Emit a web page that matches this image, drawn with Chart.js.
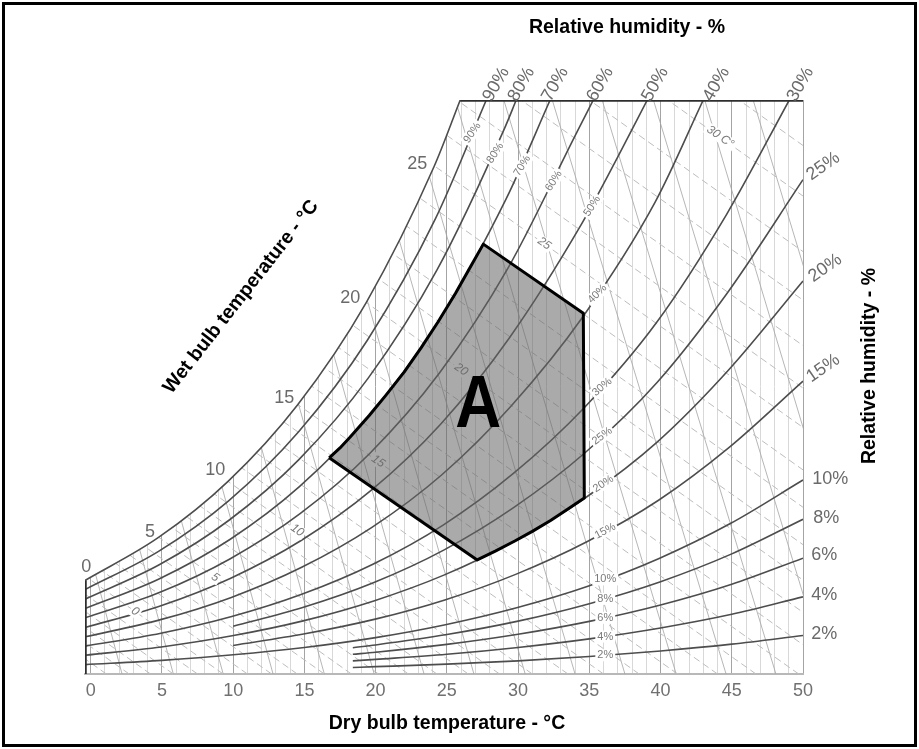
<!DOCTYPE html>
<html>
<head>
<meta charset="utf-8">
<script src="https://cdn.jsdelivr.net/npm/chart.js@4.4.1/dist/chart.umd.min.js"></script>
<style>
  html, body { margin: 0; padding: 0; background: #fff; }
  #wrap { width: 919px; height: 749px; position: relative; }
</style>
</head>
<body>
<div id="wrap"><canvas id="chart"></canvas></div>
<script>
// psychrometric chart - comfort zone A
// x = dry bulb temperature (°C), y = humidity ratio (g/kg)
const T_MIN = -0.4;
const T_MAX = 50;
const W_TOP = 22.7;
const dryBulbTicks = [0, 5, 10, 15, 20, 25, 30, 35, 40, 45, 50];

// relative humidity curves, [dry bulb, humidity ratio]
const rh100 = [[-0.4, 3.70], [4.76, 5.40], [9.66, 7.63], [14.53, 10.65], [19.35, 14.70], [24.12, 20.09], [25.94, 22.7]];
const rh90 = [[-0.4, 3.34], [4.79, 4.86], [9.70, 6.86], [14.58, 9.57], [19.42, 13.20], [24.21, 18.02], [27.77, 22.7]];
const rh80 = [[-0.4, 2.96], [4.81, 4.32], [9.73, 6.09], [14.63, 8.49], [19.48, 11.70], [24.30, 15.97], [29.05, 21.58], [29.87, 22.7]];
const rh70 = [[-0.4, 2.59], [4.83, 3.77], [9.77, 5.32], [14.67, 7.42], [19.55, 10.22], [24.39, 13.93], [29.17, 18.80], [32.25, 22.7]];
const rh60 = [[-0.4, 2.22], [4.86, 3.23], [9.80, 4.56], [14.72, 6.35], [19.62, 8.74], [24.48, 11.90], [29.29, 16.05], [34.14, 21.44], [35.28, 22.7]];
const rh50 = [[-0.4, 1.84], [4.88, 2.69], [9.83, 3.79], [14.77, 5.28], [19.68, 7.26], [24.56, 9.88], [29.41, 13.31], [34.43, 17.77], [37.01, 20.46], [39.07, 22.7]];
const rh40 = [[-0.4, 1.47], [4.91, 2.15], [9.87, 3.03], [14.81, 4.22], [19.74, 5.80], [24.65, 7.88], [29.53, 10.61], [34.55, 14.13], [39.63, 18.67], [43.0, 22.7]];
const rh30 = [[-0.4, 1.10], [4.93, 1.61], [9.90, 2.27], [14.86, 3.16], [19.81, 4.34], [24.74, 5.89], [29.65, 7.92], [34.66, 10.54], [39.72, 13.90], [44.64, 18.18], [49.04, 22.7]];
const rh25 = [[10, 1.89], [14.88, 2.63], [19.84, 3.61], [24.78, 4.90], [29.71, 6.59], [34.72, 8.76], [39.77, 11.54], [44.70, 15.08], [50, 19.55]];
const rh20 = [[-0.4, 0.74], [4.95, 1.07], [9.93, 1.51], [14.91, 2.10], [19.87, 2.89], [24.83, 3.92], [29.77, 5.26], [34.78, 6.99], [39.82, 9.20], [44.76, 12.01], [50, 15.54]];
const rh15 = [[10, 1.13], [14.94, 1.58], [19.90, 2.16], [24.86, 2.93], [29.83, 3.94], [34.83, 5.23], [39.86, 6.87], [44.82, 8.96], [50, 11.58]];
const rh10 = [[-0.4, 0.37], [5, 0.54], [10, 0.76], [15, 1.05], [20, 1.44], [24.9, 1.95], [29.9, 2.62], [34.9, 3.47], [39.9, 4.57], [44.9, 5.95], [50, 7.67]];
const rh8 = [[18.4, 1.04], [20, 1.15], [25, 1.56], [30, 2.09], [35, 2.78], [40, 3.65], [45, 4.75], [50, 6.12]];
const rh6 = [[18.4, 0.78], [20, 0.86], [25, 1.17], [30, 1.57], [35, 2.08], [40, 2.73], [45, 3.55], [50, 4.58]];
const rh4 = [[18.4, 0.52], [20, 0.58], [25, 0.78], [30, 1.05], [35, 1.39], [40, 1.82], [45, 2.36], [50, 3.05]];
const rh2 = [[18.4, 0.26], [20, 0.29], [25, 0.39], [30, 0.52], [35, 0.69], [40, 0.91], [45, 1.18], [50, 1.52]];

// zone A outline (left edge runs along 70 %, lower right edge along 20 %)
const zoneA = [[16.74, 8.55], [17.5, 8.94], [18.2, 9.36], [19.55, 10.22], [20.7, 11.01], [22.0, 11.94], [23.2, 12.91],
  [24.39, 13.93], [25.6, 15.05], [26.6, 16.05], [27.56, 17.0],
  [34.58, 14.27], [34.65, 6.96], [33.5, 6.53], [32.28, 6.07], [31.0, 5.64], [29.77, 5.26], [28.4, 4.86], [27.13, 4.51],
  [16.74, 8.55]];

// wet bulb lines (dashed): dry bulb where they meet the bottom and the top edge
const wetBulbFoot = [1.1, 2.7, 4.2, 5.8, 7.5, 9.3, 11.0, 12.7, 14.5, 16.4, 18.3, 20.2, 22.3, 24.3, 26.5, 28.7, 31.0, 33.5, 36.0, 38.5,
  41.2, 44.0, 46.7, 49.7, 52.9, 56.1, 59.3, 62.8, 66.5, 70.2, 74.4, 78.3, 82.5, 87.0, 91.8, 97.3, 102.3];
const wetBulbHead = [-55.7, -54.1, -52.6, -51.0, -49.3, -47.5, -45.8, -44.1, -42.3, -40.4, -38.5, -36.6, -34.5, -32.5, -30.3, -28.1,
  -25.8, -23.3, -20.8, -18.3, -15.6, -12.8, -10.1, -7.1, -3.9, -0.7, 2.5, 6.0, 9.7, 13.4, 17.6, 21.5, 25.7, 30.2, 35.0, 40.5, 45.5];

// specific volume lines (thin, steep)
const volumeFoot = [2.2, 5.8, 9.3, 12.8, 16.4, 19.9, 23.4, 26.9, 30.5, 34.0, 37.5, 41.1, 44.6, 48.1, 51.7, 55.2, 58.7, 62.3];
const volumeHead = [-8.5, -5.1, -1.7, 1.8, 5.2, 8.6, 12.0, 15.4, 18.8, 22.2, 25.6, 29.0, 32.4, 35.9, 39.5, 43.1, 46.5, 50.0];

const FONT = '"Liberation Sans", Arial, Helvetica, sans-serif';
const CURVE = '#4d4d4d';

const pts = arr => arr.map(p => ({ x: p[0], y: p[1] }));
function segs(foot, head) {
  const out = [];
  foot.forEach((f, i) => {
    out.push({ x: f, y: 0 }, { x: head[i], y: W_TOP }, { x: head[i], y: null });
  });
  return out;
}

/* labels along the curves */
const rhCurveLabels = [
  ['90%', 26.79, 21.4, -55], ['80%', 28.4, 20.6, -57], ['70%', 30.3, 20.1, -58], ['60%', 32.5, 19.5, -58],
  ['50%', 35.2, 18.5, -57], ['40%', 35.56, 15.03, -45], ['30%', 35.9, 11.35, -40], ['25%', 35.9, 9.41, -37],
  ['20%', 35.98, 7.52, -33], ['15%', 36.12, 5.65, -28],
  ['10%', 36.12, 3.74, 0], ['8%', 36.12, 2.97, 0], ['6%', 36.12, 2.22, 0], ['4%', 36.12, 1.48, 0], ['2%', 36.12, 0.74, 0]
];
const wetBulbInnerLabels = [['0', 3.12, 2.47], ['5', 8.74, 3.82], ['10', 14.5, 5.68], ['15', 20.18, 8.41],
  ['20', 26.01, 12.04], ['25', 31.84, 17.02], ['30 C°', 44.2, 21.24]];
const wetBulbOuterLabels = [['0', -0.32, 4.23], ['5', 4.17, 5.61], ['10', 8.74, 8.06], ['15', 13.58, 10.91],
  ['20', 18.22, 14.86], ['25', 22.92, 20.16]];
const topRhLabels = [['90%', 28.47], ['80%', 30.23], ['70%', 32.61], ['60%', 35.77], ['50%', 39.63], ['40%', 43.92], ['30%', 49.82]];
const rightRhLabels = [['25%', 51.42, 20.08, -35], ['20%', 51.56, 16.05, -35], ['15%', 51.42, 12.09, -35],
  ['10%', 51.92, 7.71, 0], ['8%', 51.63, 6.17, 0], ['6%', 51.49, 4.70, 0], ['4%', 51.49, 3.12, 0], ['2%', 51.49, 1.58, 0]];

function drawText(ctx, text, x, y, rot, font, color, box) {
  ctx.save();
  ctx.translate(x, y);
  ctx.rotate(rot * Math.PI / 180);
  ctx.font = font;
  ctx.textAlign = 'center';
  ctx.textBaseline = 'middle';
  if (box) {
    const w = ctx.measureText(text).width;
    ctx.fillStyle = '#fff';
    ctx.fillRect(-w / 2 - 2, -box / 2, w + 4, box);
  }
  ctx.fillStyle = color;
  ctx.fillText(text, 0, 0);
  ctx.restore();
}

const textLayer = {
  id: 'textLayer',
  afterDatasetDraw(chart, args) {
    if (chart.data.datasets[args.index].label !== 'labels') return;
    const { ctx } = chart;
    const xs = chart.scales.x, ys = chart.scales.y;
    rhCurveLabels.forEach(l => {
      drawText(ctx, l[0], xs.getPixelForValue(l[1]), ys.getPixelForValue(l[2]), l[3], '11px ' + FONT, '#7a7a7a', 12);
    });
    wetBulbInnerLabels.forEach(l => {
      drawText(ctx, l[0], xs.getPixelForValue(l[1]), ys.getPixelForValue(l[2]), 35, 'italic 12px ' + FONT, '#7a7a7a', 12);
    });
  },
  afterDatasetsDraw(chart) {
    const { ctx } = chart;
    const xs = chart.scales.x, ys = chart.scales.y;
    const big = '18px ' + FONT;
    const grey = '#6a6a6a';
    wetBulbOuterLabels.forEach(l => drawText(ctx, l[0], xs.getPixelForValue(l[1]), ys.getPixelForValue(l[2]), 0, big, grey));
    topRhLabels.forEach(l => drawText(ctx, l[0], xs.getPixelForValue(l[1]), ys.getPixelForValue(23.32), -60, big, grey));
    rightRhLabels.forEach(l => drawText(ctx, l[0], xs.getPixelForValue(l[1]), ys.getPixelForValue(l[2]), l[3], big, grey));

    // zone letter
    ctx.save();
    ctx.translate(xs.getPixelForValue(27.2), ys.getPixelForValue(10.71));
    ctx.scale(0.86, 1);
    ctx.font = 'bold 74px ' + FONT;
    ctx.textAlign = 'center';
    ctx.textBaseline = 'middle';
    ctx.fillStyle = '#000';
    ctx.fillText('A', 0, 3);
    ctx.restore();

    const title = 'bold 19.5px ' + FONT;
    drawText(ctx, 'Relative humidity - %', 627, 28, 0, title, '#000');
    drawText(ctx, 'Dry bulb temperature - °C', 447, 724, 0, title, '#000');
    drawText(ctx, 'Relative humidity - %', 870, 366, -90, title, '#000');
    drawText(ctx, 'Wet bulb temperature - °C', 241, 297, -52, title, '#000');

    ctx.save();
    ctx.strokeStyle = '#000';
    ctx.lineWidth = 3;
    ctx.strokeRect(3.5, 3.5, 912, 742);
    ctx.restore();
  }
};

const line = (data, extra) => Object.assign({
  data: pts(data), showLine: true, pointRadius: 0, borderColor: CURVE, borderWidth: 1.6,
  cubicInterpolationMode: 'monotone', fill: false
}, extra);

const rhCurves = [rh90, rh80, rh70, rh60, rh50, rh40, rh30, rh25, rh20, rh15, rh10, rh8, rh6, rh4, rh2];

const datasets = [
  { label: 'zoneA', data: pts(zoneA), showLine: true, pointRadius: 0, tension: 0, order: 10,
    fill: 'shape', backgroundColor: 'rgba(100,100,100,0.55)', borderColor: '#000', borderWidth: 3, borderJoinStyle: 'round' },
  { label: 'edgeTop', data: pts([[25.94, W_TOP], [T_MAX, W_TOP]]), showLine: true, pointRadius: 0, order: 12,
    borderColor: '#2e2e2e', borderWidth: 3.5 },
  { label: 'edgeLeft', data: pts([[T_MIN, 0], [T_MIN, 3.70]]), showLine: true, pointRadius: 0, order: 12,
    borderColor: '#2e2e2e', borderWidth: 3.5 },
  { label: 'labels', data: [], order: 15 },
  ...rhCurves.map(c => line(c, { order: 20 })),
  line(rh100, { label: 'saturation', order: 30, fill: 'end', backgroundColor: '#fff' }),
  { label: 'wetBulb', data: segs(wetBulbFoot, wetBulbHead), showLine: true, pointRadius: 0, order: 40,
    borderColor: '#bdbdbd', borderWidth: 1, borderDash: [7, 4], spanGaps: false },
  { label: 'volume', data: segs(volumeFoot, volumeHead), showLine: true, pointRadius: 0, order: 50,
    borderColor: '#a3a3a3', borderWidth: 0.8, spanGaps: false }
];

new Chart(document.getElementById('chart'), {
  type: 'scatter',
  data: { datasets },
  options: {
    responsive: true,
    maintainAspectRatio: false,
    animation: false,
    events: [],
    layout: { padding: { left: 85, right: 116, top: 100, bottom: 45 } },
    plugins: { legend: { display: false }, tooltip: { enabled: false } },
    scales: {
      x: {
        type: 'linear', min: T_MIN, max: T_MAX,
        afterFit: s => { s.height = 30; },
        border: { color: '#b8b8b8', width: 2 },
        grid: {
          drawTicks: false,
          lineWidth: 1,
          color: c => {
            const v = c.tick ? c.tick.value : 0;
            return v % 5 === 0 ? '#a4a4a4' : '#d8d8d8';
          }
        },
        ticks: {
          stepSize: 1, maxTicksLimit: 100, autoSkip: false, maxRotation: 0, padding: 6, includeBounds: false,
          color: '#707070', font: { family: FONT, size: 18 },
          callback: v => dryBulbTicks.includes(v) ? String(v) : ''
        }
      },
      y: { type: 'linear', min: 0, max: W_TOP, display: false }
    }
  },
  plugins: [textLayer]
});
</script>
</body>
</html>
